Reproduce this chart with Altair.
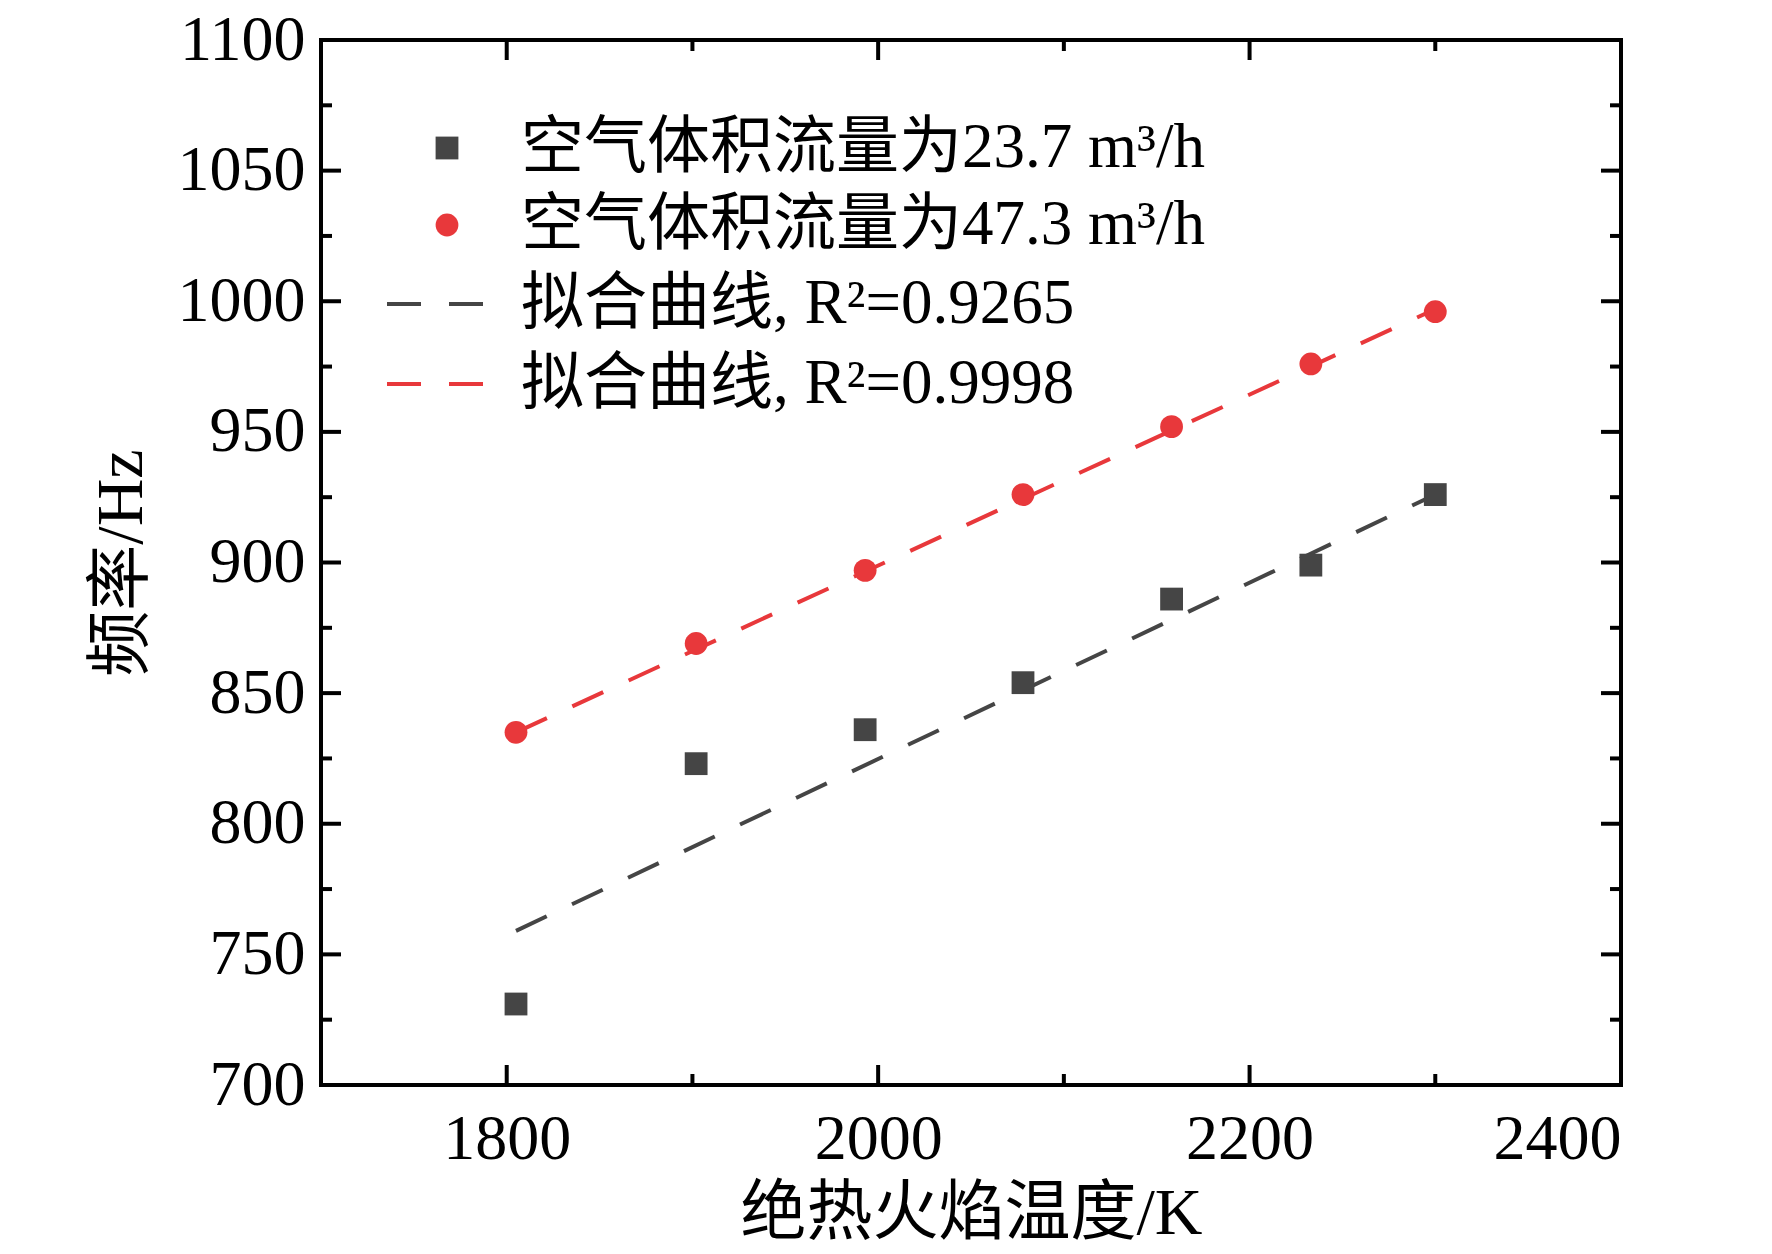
import altair as alt
import pandas as pd

temps = [1805, 1902, 1993, 2078, 2158, 2233, 2300]
f_low = [731, 823, 836, 854, 886, 899, 926]
f_high = [835, 869, 897, 926, 952, 976, 996]
fit_x = [1805, 2300]
fit_low = [759, 926]
fit_high = [835, 997]
xticks_major = [1800, 2000, 2200, 2400]
xticks_minor = [1700, 1900, 2100, 2300]
yticks_major = [700, 750, 800, 850, 900, 950, 1000, 1050, 1100]
yticks_minor = [725, 775, 825, 875, 925, 975, 1025, 1075]
legend_labels = ["空气体积流量为23.7 m³/h", "空气体积流量为47.3 m³/h",
                 "拟合曲线, R²=0.9265", "拟合曲线, R²=0.9998"]

W, H = 1300, 1045
GREY = "#454545"
RED = "#e8383b"
SERIF = "Liberation Serif, Noto Sans CJK SC"

xs = alt.Scale(domain=[1700, 2400], nice=False)
ys = alt.Scale(domain=[700, 1100], nice=False)

pts = pd.DataFrame({"x": temps * 2, "y": f_low + f_high,
                    "s": ["a"] * 7 + ["b"] * 7})
fit = pd.DataFrame({"x": fit_x * 2, "y": fit_low + fit_high, "s": ["a", "a", "b", "b"]})
cscale = alt.Scale(domain=["a", "b"], range=[GREY, RED])

xax = alt.Axis(values=xticks_major, tickSize=0, domain=False, grid=False, format="d",
               labelFont=SERIF, labelFontSize=64, labelPadding=22, labelColor="black",
               title="绝热火焰温度/K", titleFont=SERIF, titleFontSize=66,
               titleFontWeight="normal", titlePadding=10, titleColor="black")
yax = alt.Axis(values=yticks_major, tickSize=0, domain=False, grid=False, format="d",
               labelFont=SERIF, labelFontSize=64, labelPadding=16, labelColor="black",
               title="频率/Hz", titleFont=SERIF, titleFontSize=66,
               titleFontWeight="normal", titlePadding=22, titleColor="black")

base_lines = alt.Chart(fit).mark_line(strokeDash=[34, 28], strokeWidth=4).encode(
    x=alt.X("x:Q", scale=xs, axis=xax), y=alt.Y("y:Q", scale=ys, axis=yax),
    color=alt.Color("s:N", scale=cscale, legend=None), detail="s:N")

sq = alt.Chart(pts[pts.s == "a"]).mark_square(size=520, opacity=1, filled=True, color=GREY).encode(
    x=alt.X("x:Q", scale=xs), y=alt.Y("y:Q", scale=ys))
ci = alt.Chart(pts[pts.s == "b"]).mark_circle(size=520, opacity=1, color=RED).encode(
    x=alt.X("x:Q", scale=xs), y=alt.Y("y:Q", scale=ys))

def xt(vals, L):
    d = pd.DataFrame({"x": vals})
    b = alt.Chart(d).mark_rule(color="black", strokeWidth=4)
    return [b.encode(x=alt.X("x:Q", scale=xs), y=alt.value(H), y2=alt.value(H - L)),
            b.encode(x=alt.X("x:Q", scale=xs), y=alt.value(0), y2=alt.value(L))]

def yt(vals, L):
    d = pd.DataFrame({"y": vals})
    b = alt.Chart(d).mark_rule(color="black", strokeWidth=4)
    return [b.encode(y=alt.Y("y:Q", scale=ys), x=alt.value(0), x2=alt.value(L)),
            b.encode(y=alt.Y("y:Q", scale=ys), x=alt.value(W), x2=alt.value(W - L))]

ticks = xt(xticks_major, 20) + xt(xticks_minor, 11) + yt(yticks_major, 20) + yt(yticks_minor, 11)

frame = alt.Chart(pd.DataFrame({"a": [0]})).mark_rect(
    fill=None, stroke="black", strokeWidth=4).encode(
    x=alt.value(0), x2=alt.value(W), y=alt.value(0), y2=alt.value(H))

ly = [108, 185, 264, 344]
leg_txt = [alt.Chart(pd.DataFrame({"t": [legend_labels[i]]})).mark_text(
    align="left", baseline="middle", font=SERIF, fontSize=63, color="black").encode(
    text="t:N", x=alt.value(200), y=alt.value(ly[i])) for i in range(4)]
one = pd.DataFrame({"a": [0]})
leg_sym = [
    alt.Chart(one).mark_square(size=520, opacity=1, color=GREY).encode(x=alt.value(126), y=alt.value(ly[0])),
    alt.Chart(one).mark_circle(size=520, opacity=1, color=RED).encode(x=alt.value(126), y=alt.value(ly[1])),
    alt.Chart(one).mark_rule(strokeDash=[34, 28], strokeWidth=4, color=GREY).encode(
        x=alt.value(66), x2=alt.value(190), y=alt.value(ly[2])),
    alt.Chart(one).mark_rule(strokeDash=[34, 28], strokeWidth=4, color=RED).encode(
        x=alt.value(66), x2=alt.value(190), y=alt.value(ly[3])),
]

chart = alt.layer(base_lines, sq, ci, *ticks, frame, *leg_sym, *leg_txt).properties(
    width=W, height=H, padding={"left": 80, "top": 0, "right": 60, "bottom": 5}
).configure_view(stroke=None).configure(background="white")

chart.save("out.html", embed_options={"renderer": "svg", "actions": False})
